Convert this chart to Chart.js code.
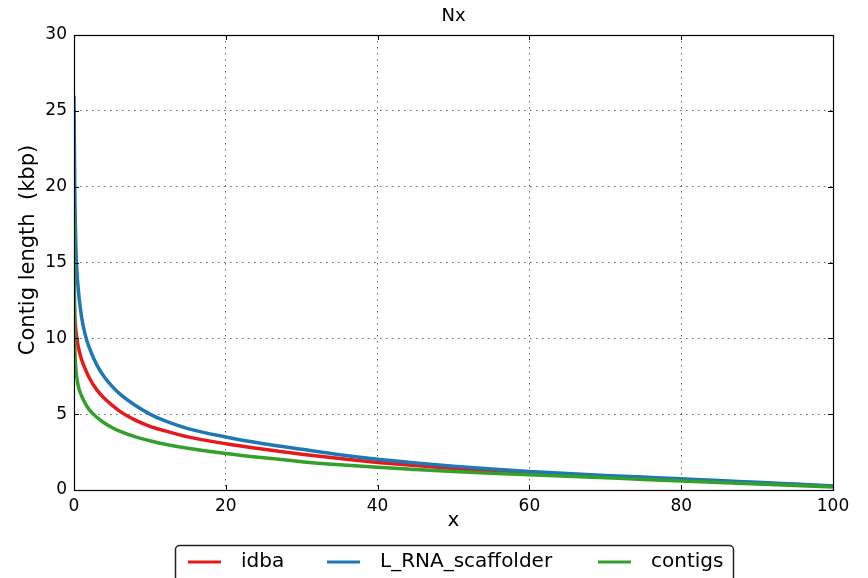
<html>
<head>
    <title>Nx</title>
    <style>
        body { margin: 0; background: #fff; }
        #wrap { width: 868px; height: 578px; }
    </style>
</head>
<body>
<div id="wrap"><canvas id="nx"></canvas></div>

<script src="https://cdn.jsdelivr.net/npm/chart.js"></script>

<script>
    // x positions (percent of assembly) and contig lengths in kbp
    const xValues = [0, 0.1, 0.25, 0.5, 1, 1.5, 2, 3, 4, 5, 6, 8, 10, 12, 15, 20, 25, 30, 35, 40,
        45, 50, 55, 60, 65, 70, 75, 80, 85, 90, 95, 100]
    const idbaValues = [13, 11.5, 10.5, 9.6, 8.6, 7.95, 7.4, 6.6, 6.05, 5.6, 5.2, 4.62, 4.2, 3.9, 3.5, 3.05,
        2.68, 2.36, 2.07, 1.82, 1.61, 1.42, 1.26, 1.12, 1.0, 0.89, 0.78, 0.67, 0.56, 0.46, 0.36, 0.25]
    const scaffolderValues = [26, 20, 16, 13.6, 11.4, 10.2, 9.4, 8.25, 7.45, 6.85, 6.35, 5.6, 5.0, 4.55, 4.05, 3.5,
        3.05, 2.68, 2.32, 2.02, 1.78, 1.57, 1.38, 1.22, 1.08, 0.96, 0.85, 0.74, 0.62, 0.51, 0.39, 0.27]
    const contigsValues = [18, 10, 8, 7, 6.2, 5.7, 5.3, 4.8, 4.42, 4.12, 3.88, 3.52, 3.25, 3.02, 2.75, 2.41,
        2.12, 1.87, 1.67, 1.5, 1.35, 1.22, 1.1, 1.0, 0.9, 0.8, 0.7, 0.6, 0.5, 0.4, 0.3, 0.2]
    const seriesLabels = ['idba', 'L_RNA_scaffolder', 'contigs']
    const seriesColors = ['#e31a1c', '#1f78b4', '#33a02c']
    const xTicks = [0, 20, 40, 60, 80, 100]
    const yTicks = [0, 5, 10, 15, 20, 25, 30]

    function toPoints(values) {
        return values.map((v, i) => ({x: xValues[i], y: v}))
    }

    const font = 'DejaVu Sans'

    // frame, inner tick marks, title, axis titles and legend box like matplotlib
    const decor = {
        id: 'decor',
        afterDraw(chart) {
            const ctx = chart.ctx
            const a = chart.chartArea
            const xs = chart.scales.x
            const ys = chart.scales.y
            ctx.save()
            ctx.strokeStyle = '#000'
            ctx.lineWidth = 1
            ctx.beginPath()
            for (const t of xTicks) {
                const px = Math.round(xs.getPixelForValue(t)) + 0.5
                ctx.moveTo(px, a.bottom); ctx.lineTo(px, a.bottom - 5)
                ctx.moveTo(px, a.top); ctx.lineTo(px, a.top + 5)
            }
            for (const t of yTicks) {
                const py = Math.round(ys.getPixelForValue(t)) + 0.5
                ctx.moveTo(a.left, py); ctx.lineTo(a.left + 5, py)
                ctx.moveTo(a.right, py); ctx.lineTo(a.right - 5, py)
            }
            ctx.stroke()
            ctx.lineWidth = 1.2
            ctx.strokeRect(Math.round(a.left) + 0.5, Math.round(a.top) + 0.5,
                Math.round(a.right - a.left), Math.round(a.bottom - a.top))

            ctx.fillStyle = '#000'
            ctx.textAlign = 'center'
            ctx.textBaseline = 'middle'
            ctx.font = '18px "' + font + '"'
            ctx.fillText('Nx', (a.left + a.right) / 2, 16)
            ctx.font = '20px "' + font + '"'
            ctx.fillText('x', (a.left + a.right) / 2, 521)
            ctx.save()
            ctx.translate(29, 250)
            ctx.rotate(-Math.PI / 2)
            ctx.font = '21px "' + font + '"'
            ctx.fillText('Contig length  (kbp)', 0, 0)
            ctx.restore()

            // legend
            ctx.lineWidth = 1.5
            ctx.strokeStyle = '#222'
            ctx.beginPath()
            ctx.roundRect(175.5, 545.5, 558, 60, 4)
            ctx.fillStyle = '#fff'
            ctx.fill()
            ctx.stroke()
            const lineX = [188, 327, 598]
            ctx.font = '20px "' + font + '"'
            ctx.textAlign = 'left'
            chart.data.datasets.forEach((ds, i) => {
                ctx.strokeStyle = ds.borderColor
                ctx.lineWidth = 3
                ctx.beginPath()
                ctx.moveTo(lineX[i], 562)
                ctx.lineTo(lineX[i] + 33, 562)
                ctx.stroke()
                ctx.fillStyle = '#000'
                ctx.fillText(ds.label, lineX[i] + 53, 562)
            })
            ctx.restore()
        }
    }

    new Chart(document.getElementById('nx'), {
        type: 'line',
        data: {
            datasets: [
                {label: seriesLabels[0], data: toPoints(idbaValues), borderColor: seriesColors[0], order: 3},
                {label: seriesLabels[1], data: toPoints(scaffolderValues), borderColor: seriesColors[1], order: 2},
                {label: seriesLabels[2], data: toPoints(contigsValues), borderColor: seriesColors[2], order: 1}
            ]
        },
        options: {
            responsive: true,
            maintainAspectRatio: false,
            animation: false,
            events: [],
            layout: {padding: {top: 35, right: 35, bottom: 0, left: 0}},
            elements: {
                point: {radius: 0},
                line: {borderWidth: 3.5, cubicInterpolationMode: 'monotone', fill: false}
            },
            plugins: {
                legend: {display: false},
                title: {display: false},
                tooltip: {enabled: false}
            },
            scales: {
                x: {
                    type: 'linear',
                    min: 0,
                    max: 100,
                    afterFit(scale) { scale.height = 88 },
                    afterBuildTicks(scale) { scale.ticks = xTicks.map(v => ({value: v})) },
                    grid: {color: 'rgba(0,0,0,0.6)', lineWidth: 1, drawTicks: false},
                    border: {display: false, dash: [1.5, 4.5]},
                    ticks: {color: '#000', padding: 6, maxRotation: 0, font: {family: font, size: 17}}
                },
                y: {
                    type: 'linear',
                    min: 0,
                    max: 30,
                    afterFit(scale) { scale.width = 74 },
                    afterBuildTicks(scale) { scale.ticks = yTicks.map(v => ({value: v})) },
                    grid: {color: 'rgba(0,0,0,0.6)', lineWidth: 1, drawTicks: false},
                    border: {display: false, dash: [1.5, 4.5]},
                    ticks: {color: '#000', padding: 7, font: {family: font, size: 17}}
                }
            }
        },
        plugins: [decor]
    });
</script>
</body>
</html>
